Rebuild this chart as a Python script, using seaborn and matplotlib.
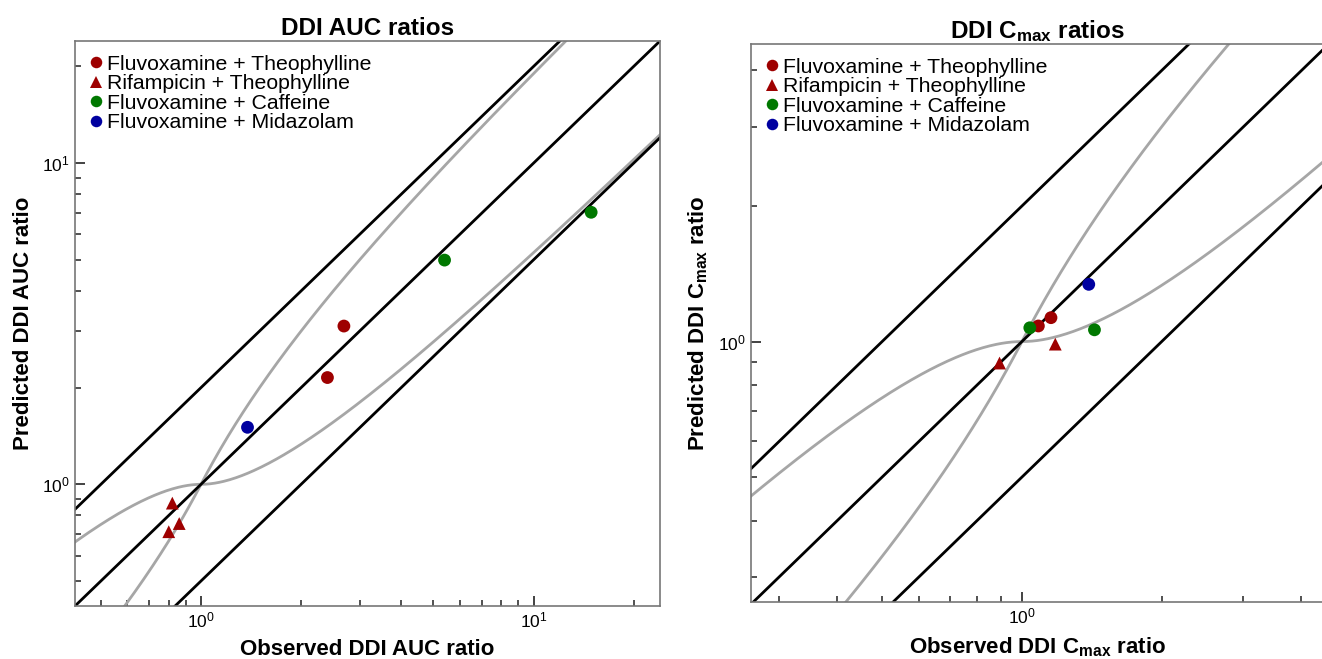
import numpy as np
import pandas as pd
import matplotlib
matplotlib.use("Agg")
import matplotlib.pyplot as plt
import seaborn as sns
from matplotlib.ticker import LogLocator, NullFormatter, LogFormatterSciNotation

# ---------------- data ----------------
series_names = ["Fluvoxamine + Theophylline", "Rifampicin + Theophylline",
                "Fluvoxamine + Caffeine", "Fluvoxamine + Midazolam"]
series_colors = ["#9e0000", "#9e0000", "#007800", "#0000a0"]
series_markers = ["o", "^", "o", "o"]

auc_group = ["Fluvoxamine + Theophylline", "Fluvoxamine + Theophylline",
             "Rifampicin + Theophylline", "Rifampicin + Theophylline", "Rifampicin + Theophylline",
             "Fluvoxamine + Caffeine", "Fluvoxamine + Caffeine",
             "Fluvoxamine + Midazolam"]
auc_observed = [2.40, 2.69, 0.82, 0.86, 0.80, 5.40, 14.9, 1.38]
auc_predicted = [2.15, 3.11, 0.874, 0.755, 0.712, 4.99, 7.03, 1.505]

cmax_group = ["Fluvoxamine + Theophylline", "Fluvoxamine + Theophylline",
              "Rifampicin + Theophylline", "Rifampicin + Theophylline",
              "Fluvoxamine + Caffeine", "Fluvoxamine + Caffeine",
              "Fluvoxamine + Midazolam"]
cmax_observed = [1.085, 1.155, 1.18, 0.895, 1.04, 1.433, 1.393]
cmax_predicted = [1.083, 1.13, 0.987, 0.896, 1.073, 1.062, 1.34]

auc_limits = (0.418, 24.0)
cmax_xlim = (0.261, 4.45)
cmax_ylim = (0.264, 4.58)

# ---------------- style ----------------
sns.set_theme(style="ticks")
plt.rcParams["font.family"] = ["Liberation Sans", "DejaVu Sans"]
plt.rcParams["mathtext.fontset"] = "custom"
plt.rcParams["mathtext.rm"] = "Liberation Sans"
plt.rcParams["mathtext.it"] = "Liberation Sans:italic"
plt.rcParams["mathtext.bf"] = "Liberation Sans:bold"
plt.rcParams["text.color"] = "black"
plt.rcParams["axes.labelcolor"] = "black"
plt.rcParams["axes.titlecolor"] = "black"

palette = dict(zip(series_names, series_colors))
markers = dict(zip(series_names, series_markers))

W, H = 1322, 659
fig = plt.figure(figsize=(W / 100, H / 100), dpi=100)


def px_axes(l, r, t, b):
    return fig.add_axes([l / W, (H - b) / H, (r - l) / W, (b - t) / H])


def guest(r):
    rr = np.where(r >= 1, r, 1 / r)
    lim = (1 + 2 * (rr - 1)) / rr
    return r * lim, r / lim


def draw_panel(ax, obs, pred, grp, xlim, ylim, title, xlabel, ylabel, ax_h_px):
    ax.set_xscale("log")
    ax.set_yscale("log")
    xs = np.geomspace(min(xlim[0], ylim[0]) / 3, max(xlim[1], ylim[1]) * 3, 600)
    up, lo = guest(xs)
    sns.lineplot(x=xs, y=up, ax=ax, color="#a6a6a6", lw=2.0, estimator=None, sort=False)
    sns.lineplot(x=xs, y=lo, ax=ax, color="#a6a6a6", lw=2.0, estimator=None, sort=False)
    for f in (1.0, 2.0, 0.5):
        sns.lineplot(x=xs, y=xs * f, ax=ax, color="black", lw=2.0, estimator=None, sort=False)
    df = pd.DataFrame({"obs": obs, "pred": pred, "group": grp})
    sns.scatterplot(data=df, x="obs", y="pred", hue="group", style="group",
                    hue_order=series_names, style_order=series_names,
                    palette=palette, markers=markers, s=85, linewidth=0,
                    ax=ax, zorder=5)
    ax.set_xlim(*xlim)
    ax.set_ylim(*ylim)
    ax.set_title(title, fontsize=17.5, fontweight="bold", pad=4)
    ax.set_xlabel(xlabel, fontsize=16, fontweight="bold", labelpad=6)
    ax.set_ylabel(ylabel, fontsize=16, fontweight="bold", labelpad=6)
    for a in (ax.xaxis, ax.yaxis):
        a.set_major_locator(LogLocator(base=10))
        a.set_minor_locator(LogLocator(base=10, subs=np.arange(2, 10)))
        a.set_major_formatter(LogFormatterSciNotation())
        a.set_minor_formatter(NullFormatter())
    ax.tick_params(which="major", direction="in", length=7, width=1.2, colors="#222222",
                   labelsize=12.5, labelcolor="black")
    ax.tick_params(which="minor", direction="in", length=4, width=1.1, colors="#222222")
    for s in ax.spines.values():
        s.set_color("#777777")
        s.set_linewidth(1.2)
    ax.legend(loc="upper left", bbox_to_anchor=(0.0, 1.0 - 3.5 / ax_h_px),
              frameon=False, fontsize=15.3, labelspacing=0.02,
              handletextpad=0.0, handlelength=1.0, borderaxespad=0.19,
              borderpad=0.3, markerscale=0.9)
    return ax


ax1 = px_axes(75, 660, 41, 606)
draw_panel(ax1, auc_observed, auc_predicted, auc_group, auc_limits, auc_limits,
           "DDI AUC ratios", "Observed DDI AUC ratio", "Predicted DDI AUC ratio", 565)

ax2 = px_axes(751, 1323, 44, 602)
draw_panel(ax2, cmax_observed, cmax_predicted, cmax_group, cmax_xlim, cmax_ylim,
           r"DDI C$_{\mathbf{max}}$ ratios", r"Observed DDI C$_{\mathbf{max}}$ ratio",
           r"Predicted DDI C$_{\mathbf{max}}$ ratio", 558)

fig.savefig("out.png", dpi=100)
